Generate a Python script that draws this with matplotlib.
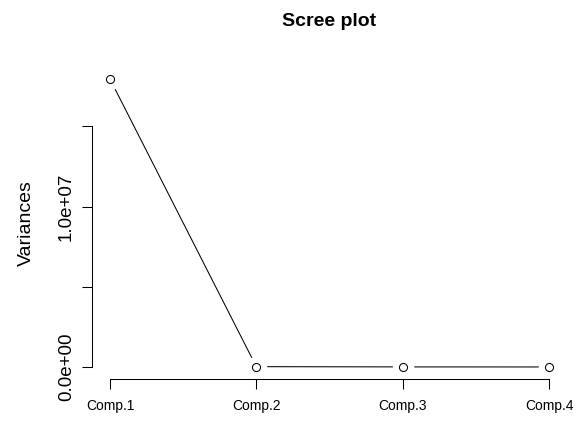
import numpy as np
import matplotlib.pyplot as plt

# principal component variances
components = ["Comp.1", "Comp.2", "Comp.3", "Comp.4"]
variances = [1.795e7, 2.0e4, 5.0e3, 1.0e3]
ytick_values = [0, 5e6, 1e7, 1.5e7]
ytick_labels = ["0.0e+00", "", "1.0e+07", ""]

W, H, DPI = 582, 430, 100
fig = plt.figure(figsize=(W / DPI, H / DPI), dpi=DPI)
plt.rcParams["font.family"] = ["Liberation Sans", "DejaVu Sans"]

# plot region in pixels (left, top, right, bottom)
l, t, r, b = 92.4, 67.5, 566.6, 378.5
ax = fig.add_axes([l / W, 1 - b / H, (r - l) / W, (b - t) / H])

x = np.arange(1, len(components) + 1)
ax.set_xlim(1 - 0.04 * 3, 4 + 0.04 * 3)
ymax = max(variances)
ax.set_ylim(-0.04 * ymax, 1.04 * ymax)

# type="b": line with gaps around the open circles
ax.plot(x, variances, color="black", lw=0.75, zorder=2)
ax.plot(x, variances, "o", ms=14.5, mfc="white", mec="white", zorder=3)
ax.plot(x, variances, "o", ms=5.8, mfc="white", mec="black", mew=0.75, zorder=4)

for s in ["top", "right"]:
    ax.spines[s].set_visible(False)
ax.spines["left"].set_bounds(ytick_values[0], ytick_values[-1])
ax.spines["bottom"].set_bounds(x[0], x[-1])
for s in ["left", "bottom"]:
    ax.spines[s].set_linewidth(0.75)

ax.set_xticks(x)
ax.set_xticklabels(components, fontsize=10)
ax.set_yticks(ytick_values)
ax.set_yticklabels(ytick_labels, fontsize=13.5, rotation=90, va="center")
ax.tick_params(length=7.5, width=0.75)
ax.tick_params(axis="x", pad=7)
ax.tick_params(axis="y", pad=5)

ax.set_ylabel("Variances", fontsize=14, va="center")
ax.yaxis.set_label_coords((26 - l) / (r - l), 0.5)
fig.text((l + r) / 2 / W, 1 - 21 / H, "Scree plot", ha="center", va="center",
         fontsize=14, fontweight="bold")

fig.savefig("out.png", dpi=DPI)
